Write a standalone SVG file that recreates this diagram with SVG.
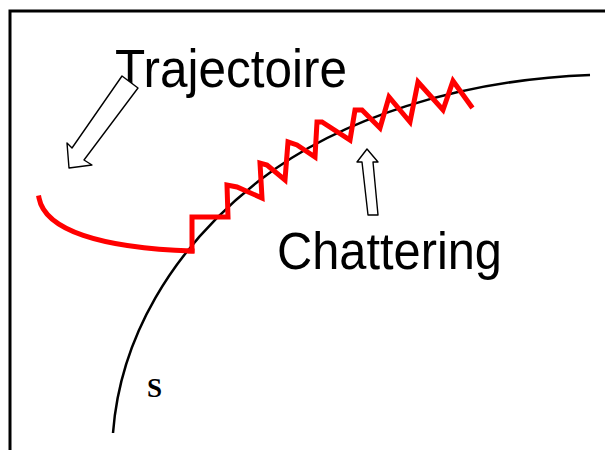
<svg xmlns="http://www.w3.org/2000/svg" width="605" height="450" viewBox="0 0 605 450">
  <style>
    .lbl { font-family: "Liberation Sans", Arial, sans-serif; fill: #000; }
    .red { fill: none; stroke: #ff0000; stroke-width: 5; stroke-linejoin: miter; stroke-linecap: square; }
    .blk { fill: none; stroke: #000; stroke-width: 2.5; }
    .arrow { fill: #fff; stroke: #000; stroke-width: 1.4; stroke-linejoin: round; }
  </style>
  <rect x="0" y="0" width="605" height="450" fill="#fff"/>
  <path d="M10,450 V11 H605" fill="none" stroke="#000" stroke-width="3"/>

  <g id="surface-s">
    <path class="blk" d="M113,433 C120,340 170,250 260,180 C340,118 460,80 590,75"/>
    <text x="147" y="397" font-family="'Liberation Serif', 'Times New Roman', serif" font-weight="bold" font-size="27">S</text>
  </g>

  <g id="trajectory">
    <path class="red" d="M39,198 C45,230 100,248 192,251"/>
    <path class="red" d="M190,251 H192 V217 H228 L227,185 L237,187 L262,198 L260,163 L267,165 L285,180 L288,142 L297,145 L315,157 L317,122 L322,122 L350,140 L355,110 L362,110 L380,128 L389,97 L410,122 L418,82 L443,110 L453,81 L471,106"/>
  </g>

  <g id="label-trajectoire">
    <text class="lbl" x="115" y="87" font-size="53" textLength="232" lengthAdjust="spacingAndGlyphs">Trajectoire</text>
  </g>

  <g id="label-chattering">
    <text class="lbl" x="277" y="269" font-size="51" textLength="225" lengthAdjust="spacingAndGlyphs">Chattering</text>
  </g>

  <g id="connectors">
    <polygon class="arrow" points="122,76 138,88 84,160 92,165 69,168 67,143 72,148"/>
    <polygon class="arrow" points="367,149 378,162 373,162 378,215 368,215 362,162 357,162"/>
  </g>
</svg>
